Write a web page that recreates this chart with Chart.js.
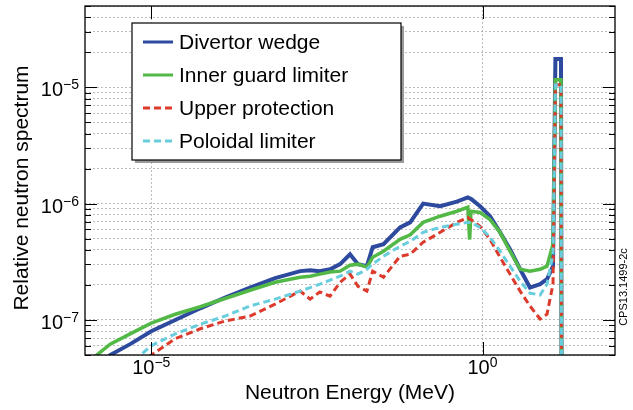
<!DOCTYPE html>
<html>
<head>
<meta charset="utf-8">
<script src="https://cdn.jsdelivr.net/npm/chart.js@4/dist/chart.umd.min.js"></script>
<style>
  html, body { margin: 0; padding: 0; background: #fff; }
  #wrap { width: 633px; height: 410px; }
</style>
</head>
<body>
<div id="wrap"><canvas id="spectrumChart" width="633" height="410"></canvas></div>
<script>
// neutron energy (MeV), shared by all four curves
var energy = [1.2e-6, 2.4e-6, 4.8e-6, 1e-5, 2.3e-5, 5.5e-5, 1.3e-4, 3.1e-4, 7.4e-4, 1.77e-3,
  2.5e-3, 3.5e-3, 5.0e-3, 7.1e-3, 1.0e-2, 1.32e-2, 1.8e-2, 2.2e-2, 3.2e-2, 5.7e-2,
  8.1e-2, 0.127, 0.23, 0.41, 0.60, 0.64, 0.67, 0.92, 1.3, 1.84, 2.6,
  3.7, 5.2, 7.4, 9.4, 11.6, 12.6, 15.3, 15.8];

var divertorWedge = [3e-8, 5.0e-8, 6.2e-8, 8.0e-8, 1.0e-7, 1.26e-7, 1.56e-7, 1.9e-7, 2.29e-7, 2.63e-7,
  2.68e-7, 2.63e-7, 2.73e-7, 3.02e-7, 3.67e-7, 3.02e-7, 2.9e-7, 4.22e-7, 4.48e-7, 6.25e-7,
  6.9e-7, 1.0e-6, 9.5e-7, 1.04e-6, 1.13e-6, 1.11e-6, 1.1e-6, 9.5e-7, 7.8e-7, 5.67e-7, 4.05e-7,
  2.73e-7, 1.9e-7, 2.03e-7, 2.24e-7, 2.9e-7, 1.75e-5, 1.75e-5, 1e-9];

var innerGuard = [4.5e-8, 6.2e-8, 7.6e-8, 9.4e-8, 1.12e-7, 1.3e-7, 1.53e-7, 1.8e-7, 2.11e-7, 2.33e-7,
  2.38e-7, 2.48e-7, 2.58e-7, 2.63e-7, 2.96e-7, 3.02e-7, 2.84e-7, 3.46e-7, 3.9e-7, 4.93e-7,
  5.4e-7, 6.9e-7, 7.8e-7, 8.6e-7, 9.3e-7, 4.9e-7, 8.6e-7, 8.4e-7, 7.3e-7, 5.67e-7, 3.9e-7,
  2.73e-7, 2.63e-7, 2.73e-7, 2.9e-7, 4.48e-7, 1.16e-5, 1.16e-5, 1e-9];

var upperProtection = [1e-8, 2e-8, 3e-8, 5.0e-8, 6.9e-8, 8.4e-8, 9.8e-8, 1.08e-7, 1.37e-7, 1.77e-7,
  1.51e-7, 1.74e-7, 1.6e-7, 2.11e-7, 2.48e-7, 1.95e-7, 1.77e-7, 2.63e-7, 2.33e-7, 3.53e-7,
  3.67e-7, 4.66e-7, 5.67e-7, 6.9e-7, 7.6e-7, 7.4e-7, 7.3e-7, 6.38e-7, 4.93e-7, 3.46e-7, 2.48e-7,
  1.77e-7, 1.32e-7, 1.02e-7, 1.12e-7, 2.03e-7, 1.05e-5, 1.05e-5, 1e-9];

var poloidalLimiter = [1e-8, 2e-8, 4.2e-8, 6.0e-8, 7.6e-8, 9.2e-8, 1.08e-7, 1.32e-7, 1.51e-7, 1.77e-7,
  1.9e-7, 2.03e-7, 2.2e-7, 2.38e-7, 2.63e-7, 2.48e-7, 2.73e-7, 3.02e-7, 3.53e-7, 4.3e-7,
  4.75e-7, 5.67e-7, 6.25e-7, 6.64e-7, 6.9e-7, 6.9e-7, 6.9e-7, 6.25e-7, 5.14e-7, 3.9e-7, 2.9e-7,
  2.16e-7, 1.7e-7, 1.64e-7, 2.03e-7, 3.67e-7, 1.05e-5, 1.05e-5, 1e-9];

var seriesNames = ['Divertor wedge', 'Inner guard limiter', 'Upper protection', 'Poloidal limiter'];

// axis ticks
var xTickValues = [1e-5, 1];
var xTickExponents = ['\u22125', '0'];
var yTickValues = [1e-7, 1e-6, 1e-5];
var yTickExponents = ['\u22127', '\u22126', '\u22125'];
var yDecades = [-8, -7, -6, -5];
var yMantissas = [1, 2, 3, 4, 5, 6, 7, 8, 9];

var FONT = '"Liberation Sans", Arial, Helvetica, sans-serif';

function points(values) {
  return energy.map(function(e, i) { return {x: e, y: values[i]}; });
}

// minor + major positions for the horizontal grid
var yGridValues = [];
yDecades.forEach(function(d) {
  yMantissas.forEach(function(m) {
    var v = m * Math.pow(10, d);
    if (v >= 5e-8 && v <= 5e-5) yGridValues.push(v);
  });
});

function drawPower(ctx, exp, x, y, align) {
  ctx.font = '20px ' + FONT;
  var wBase = ctx.measureText('10').width;
  ctx.font = '14px ' + FONT;
  var wExp = ctx.measureText(exp).width;
  var left = align === 'right' ? x - wBase - wExp : x - (wBase + wExp) / 2;
  ctx.textAlign = 'left';
  ctx.textBaseline = 'alphabetic';
  ctx.font = '20px ' + FONT;
  ctx.fillText('10', left, y);
  ctx.font = '14px ' + FONT;
  ctx.fillText(exp, left + wBase, y - 7);
}

//draws frame, tick marks, labels, legend
var decorations = {
  id: 'decorations',
  afterDatasetsDraw: function(chart) {
    var ctx = chart.ctx;
    var a = chart.chartArea;
    var xs = chart.scales.x, ys = chart.scales.y;
    ctx.save();
    ctx.fillStyle = '#000';
    ctx.strokeStyle = '#000';

    // inward tick marks
    ctx.lineWidth = 1;
    yGridValues.forEach(function(v) {
      var y = Math.round(ys.getPixelForValue(v)) + 0.5;
      var major = yTickValues.indexOf(v) >= 0;
      ctx.beginPath();
      ctx.moveTo(a.left, y); ctx.lineTo(a.left + (major ? 12 : 6), y);
      ctx.moveTo(a.right, y); ctx.lineTo(a.right - (major ? 12 : 6), y);
      ctx.stroke();
    });
    xTickValues.forEach(function(v) {
      var x = Math.round(xs.getPixelForValue(v)) + 0.5;
      ctx.beginPath();
      ctx.moveTo(x, a.bottom); ctx.lineTo(x, a.bottom - 13);
      ctx.moveTo(x, a.top); ctx.lineTo(x, a.top + 13);
      ctx.stroke();
    });

    // frame
    ctx.lineWidth = 1.3;
    ctx.strokeRect(a.left, a.top, a.right - a.left, a.bottom - a.top);

    // tick labels
    yTickValues.forEach(function(v, i) {
      drawPower(ctx, yTickExponents[i], 79, ys.getPixelForValue(v) + 9, 'right');
    });
    xTickValues.forEach(function(v, i) {
      drawPower(ctx, xTickExponents[i], xs.getPixelForValue(v), 374, 'center');
    });

    // axis titles
    ctx.font = '21px ' + FONT;
    ctx.textAlign = 'center';
    ctx.textBaseline = 'middle';
    ctx.fillText('Neutron Energy (MeV)', (a.left + a.right) / 2, 393);
    ctx.save();
    ctx.translate(22, 188);
    ctx.rotate(-Math.PI / 2);
    ctx.fillText('Relative neutron spectrum', 0, 0);
    ctx.restore();

    ctx.save();
    ctx.font = '11px ' + FONT;
    ctx.translate(624, 287);
    ctx.rotate(-Math.PI / 2);
    ctx.fillText('CPS13.1499-2c', 0, 0);
    ctx.restore();

    // legend box
    var bx = 132, by = 23, bw = 269, bh = 137;
    ctx.fillStyle = '#9a9a9a';
    ctx.fillRect(bx + 3, by + 3, bw, bh);
    ctx.fillStyle = '#fff';
    ctx.fillRect(bx, by, bw, bh);
    ctx.lineWidth = 1.2;
    ctx.strokeStyle = '#000';
    ctx.strokeRect(bx, by, bw, bh);
    chart.data.datasets.forEach(function(ds, i) {
      var ry = by + 19 + i * 33;
      ctx.beginPath();
      ctx.strokeStyle = ds.borderColor;
      ctx.lineWidth = 3;
      ctx.setLineDash(ds.borderDash || []);
      ctx.moveTo(143, ry); ctx.lineTo(173, ry);
      ctx.stroke();
      ctx.setLineDash([]);
      ctx.fillStyle = '#000';
      ctx.font = '21px ' + FONT;
      ctx.textAlign = 'left';
      ctx.textBaseline = 'middle';
      ctx.fillText(ds.label, 179, ry + 1);
    });
    ctx.restore();
  }
};

var ctx = document.getElementById('spectrumChart').getContext('2d');
var myChart = new Chart(ctx, {
  type: 'line',
  data: {
    datasets: [
      { label: seriesNames[0], data: points(divertorWedge), borderColor: '#2d4a9e', borderWidth: 4, order: 4 },
      { label: seriesNames[1], data: points(innerGuard), borderColor: '#52b947', borderWidth: 3.5, order: 3 },
      { label: seriesNames[2], data: points(upperProtection), borderColor: '#dc3a2b', borderWidth: 3, borderDash: [7, 4], order: 2 },
      { label: seriesNames[3], data: points(poloidalLimiter), borderColor: '#68cddc', borderWidth: 3, borderDash: [7, 4], order: 1 }
    ]
  },
  options: {
    responsive: false,
    animation: false,
    layout: { padding: { left: 0, right: 18, top: 6, bottom: 0 } },
    elements: { point: { radius: 0 }, line: { tension: 0, fill: false } },
    plugins: { legend: { display: false }, tooltip: { enabled: false } },
    scales: {
      x: {
        type: 'logarithmic',
        min: 1e-6,
        max: 1e2,
        afterBuildTicks: function(scale) {
          scale.ticks = xTickValues.map(function(v) { return {value: v}; });
        },
        afterFit: function(scale) { scale.height = 55; },
        ticks: { display: false, autoSkip: false },
        grid: { color: 'rgba(160,160,160,0.7)', lineWidth: 1, drawTicks: false },
        border: { display: false, dash: [2, 2] }
      },
      y: {
        type: 'logarithmic',
        min: 5e-8,
        max: 5e-5,
        afterBuildTicks: function(scale) {
          scale.ticks = yGridValues.map(function(v) { return {value: v}; });
        },
        afterFit: function(scale) { scale.width = 85; },
        ticks: { display: false, autoSkip: false },
        grid: { color: 'rgba(160,160,160,0.7)', lineWidth: 1, drawTicks: false },
        border: { display: false, dash: [2, 2] }
      }
    }
  },
  plugins: [decorations]
});
</script>
</body>
</html>
